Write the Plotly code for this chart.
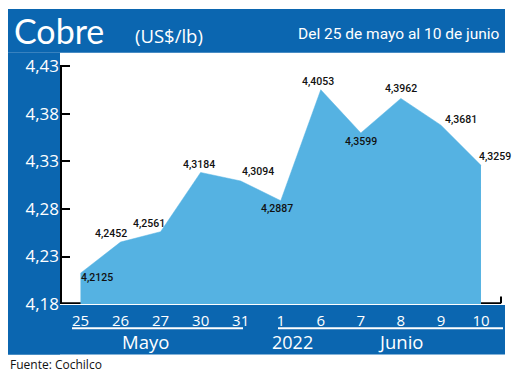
import plotly.graph_objects as go

# ---- data ----
categories = ["25", "26", "27", "30", "31", "1", "6", "7", "8", "9", "10"]
values = [4.2125, 4.2452, 4.2561, 4.3184, 4.3094, 4.2887, 4.4053, 4.3599, 4.3962, 4.3681, 4.3259]
ytick_values = [4.18, 4.23, 4.28, 4.33, 4.38, 4.43]
month_labels = ["Mayo", "2022", "Junio"]
title_text = "Cobre"
unit_text = "(US$/lb)"
period_text = "Del 25 de mayo al 10 de junio"
source_text = "Fuente: Cochilco"

# page has an 8px body margin: figure is placed at (8, 8)
OX, OY = 8, 8
W, H = 512, 377
BLUE = "#0b66b0"
FILL = "#55b2e2"
COND = "Roboto, sans-serif"
SANS = "Open Sans, Lato, sans-serif"

def px(x):
    return (x - OX) / W

def py(y):
    return 1 - (y - OY) / H

idx = list(range(len(categories)))
labels = [f"{v:.4f}".replace(".", ",") for v in values]
# label offsets in pixels (dx, dy) relative to each point
offsets = [(16, -4), (-10, 9), (-12, 8), (-2, 8), (17, 9), (-4, -8),
           (-3, 8), (0, -9), (0, 10), (20, 6), (14, 9)]

fig = go.Figure()
fig.add_trace(go.Scatter(
    x=idx, y=values, mode="lines", fill="tozeroy",
    line=dict(color=FILL, width=0.5), fillcolor=FILL,
    hoverinfo="skip", showlegend=False,
))

annotations = []
for i, (v, t) in enumerate(zip(values, labels)):
    dx, dy = offsets[i]
    annotations.append(dict(x=i, y=v, xref="x", yref="y", text=t, showarrow=False,
                            xshift=dx, yshift=dy,
                            font=dict(family=COND, size=10.5, color="#111111", weight=500)))

annotations += [
    dict(x=px(12), y=py(31), xref="paper", yref="paper", text=title_text, showarrow=False,
         xanchor="left", yanchor="middle", font=dict(family="Lato, sans-serif", size=34, color="white")),
    dict(x=px(133), y=py(36), xref="paper", yref="paper", text=unit_text, showarrow=False,
         xanchor="left", yanchor="middle", font=dict(family=SANS, size=18.5, color="white")),
    dict(x=px(502), y=py(35), xref="paper", yref="paper", text=period_text, showarrow=False,
         xanchor="right", yanchor="middle", font=dict(family=COND, size=15.5, color="white")),
    dict(x=px(145), y=py(352), xref="paper", yref="paper", text=month_labels[0], showarrow=False,
         xanchor="center", yanchor="middle", font=dict(family=SANS, size=18.5, color="white")),
    dict(x=px(292), y=py(352), xref="paper", yref="paper", text=month_labels[1], showarrow=False,
         xanchor="center", yanchor="middle", font=dict(family=SANS, size=18, color="white")),
    dict(x=px(400), y=py(352), xref="paper", yref="paper", text=month_labels[2], showarrow=False,
         xanchor="center", yanchor="middle", font=dict(family=SANS, size=18.5, color="white")),
    dict(x=px(8), y=py(375), xref="paper", yref="paper", text=source_text, showarrow=False,
         xanchor="left", yanchor="middle", font=dict(family=SANS, size=12, color="#111111")),
]

shapes = [
    dict(type="rect", xref="paper", yref="paper", x0=px(5), x1=px(505), y0=py(54), y1=py(9),
         fillcolor=BLUE, line=dict(width=0), layer="below"),
    dict(type="rect", xref="paper", yref="paper", x0=px(5), x1=px(60), y0=py(365), y1=py(54),
         fillcolor=BLUE, line=dict(width=0), layer="below"),
    dict(type="rect", xref="paper", yref="paper", x0=px(5), x1=px(505), y0=py(365), y1=py(314),
         fillcolor=BLUE, line=dict(width=0), layer="below"),
    dict(type="line", xref="paper", yref="paper", x0=px(72), x1=px(243), y0=py(338), y1=py(338),
         line=dict(color="white", width=2)),
    dict(type="line", xref="paper", yref="paper", x0=px(278), x1=px(503), y0=py(338), y1=py(338),
         line=dict(color="white", width=2)),
    dict(type="line", xref="paper", yref="paper", x0=px(61), x1=px(61), y0=py(313), y1=py(68),
         line=dict(color="black", width=2)),
    dict(type="line", xref="x", yref="y", x0=-0.5, x1=10.5, y0=4.181, y1=4.181,
         line=dict(color="black", width=2), layer="below"),
    dict(type="line", xref="x", yref="y", x0=10.5, x1=10.5, y0=4.181, y1=4.188,
         line=dict(color="black", width=2), layer="below"),
]

fig.update_layout(
    width=W, height=H,
    margin=dict(l=0, r=0, t=0, b=0),
    paper_bgcolor="white", plot_bgcolor="white",
    separators=",.",
    showlegend=False,
    annotations=annotations,
    shapes=shapes,
    xaxis=dict(
        domain=[px(60), px(505)],
        range=[-0.512, 10.6],
        tickmode="array", tickvals=idx, ticktext=categories,
        tickfont=dict(family=SANS, size=15, color="white"),
        ticklabelstandoff=6,
        showgrid=False, zeroline=False, showline=False, ticks="",
        fixedrange=True,
    ),
    yaxis=dict(
        domain=[py(313), py(54)],
        range=[4.18, 4.4443],
        tickmode="array", tickvals=ytick_values,
        tickformat=".2f",
        tickfont=dict(family=SANS, size=17, color="white"),
        ticks="inside", ticklen=10, tickwidth=2, tickcolor="black",
        showgrid=False, zeroline=False, showline=False,
        fixedrange=True,
    ),
)

fig.write_html("out.html")
